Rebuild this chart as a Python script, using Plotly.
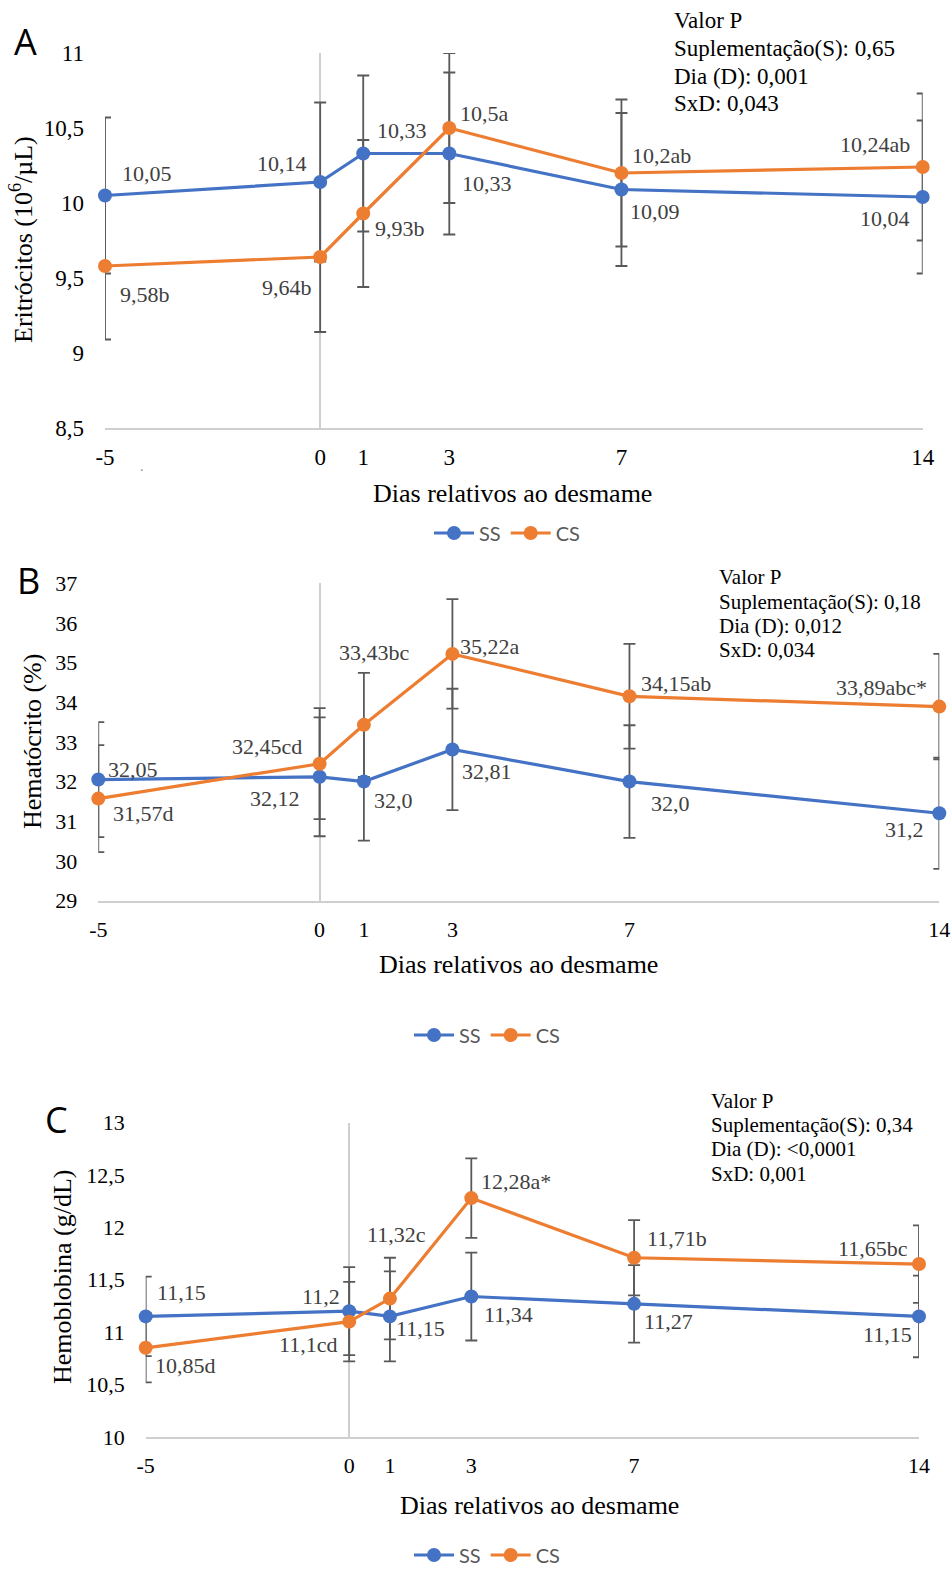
import plotly.graph_objects as go

W, H = 952, 1571

# ---------------- data ----------------
days = [-5, 0, 1, 3, 7, 14]
day_labels = ["-5", "0", "1", "3", "7", "14"]
series_names = ["SS", "CS"]

eri_ss = [10.05, 10.14, 10.33, 10.33, 10.09, 10.04]
eri_cs = [9.58, 9.64, 9.93, 10.50, 10.20, 10.24]
eri_ss_err = [0.52, 0.53, 0.52, 0.54, 0.51, 0.51]
eri_cs_err = [0.49, 0.50, 0.49, 0.50, 0.49, 0.49]
eri_ss_lbl = ["10,05", "10,14", "10,33", "10,33", "10,09", "10,04"]
eri_cs_lbl = ["9,58b", "9,64b", "9,93b", "10,5a", "10,2ab", "10,24ab"]

hem_ss = [32.05, 32.12, 32.0, 32.81, 32.0, 31.2]
hem_cs = [31.57, 32.45, 33.43, 35.22, 34.15, 33.89]
hem_ss_err = [1.45, 1.50, 1.49, 1.53, 1.42, 1.40]
hem_cs_err = [1.35, 1.40, 1.31, 1.38, 1.32, 1.33]
hem_ss_lbl = ["32,05", "32,12", "32,0", "32,81", "32,0", "31,2"]
hem_cs_lbl = ["31,57d", "32,45cd", "33,43bc", "35,22a", "34,15ab", "33,89abc*"]

hgb_ss = [11.15, 11.2, 11.15, 11.34, 11.27, 11.15]
hgb_cs = [10.85, 11.1, 11.32, 12.28, 11.71, 11.65]
hgb_ss_err = [0.38, 0.42, 0.43, 0.42, 0.37, 0.39]
hgb_cs_err = [0.33, 0.38, 0.39, 0.38, 0.36, 0.37]
hgb_ss_lbl = ["11,15", "11,2", "11,15", "11,34", "11,27", "11,15"]
hgb_cs_lbl = ["10,85d", "11,1cd", "11,32c", "12,28a*", "11,71b", "11,65bc"]

pval_A = ["Valor P", "Suplementação(S): 0,65", "Dia (D): 0,001", "SxD: 0,043"]
pval_B = ["Valor P", "Suplementação(S): 0,18", "Dia (D): 0,012", "SxD: 0,034"]
pval_C = ["Valor P", "Suplementação(S): 0,34", "Dia (D): <0,0001", "SxD: 0,001"]

# ---------------- styles / layout helpers ----------------
BLUE = "#4472C4"
ORANGE = "#ED7D31"
ERR = "#595959"
AXLINE = "#cfcfcf"
SERIF = "Liberation Serif"

def px_x(p):
    return p / W

def px_y(p):
    return 1 - p / H

panels = [
    dict(key="A", xd=(105, 922.7), yd=(53, 428), yr=[8.5, 11], dtick=0.5,
         ss=eri_ss, cs=eri_cs, sse=eri_ss_err, cse=eri_cs_err,
         ssl=eri_ss_lbl, csl=eri_cs_lbl,
         sso=[(42, -22), (-38, -19), (39, -23), (38, 30), (34, 22), (-38, 21)],
         cso=[(40, 28), (-33, 30), (37, 15), (35, -15), (40, -18), (-48, -23)],
         lblsize=22, tick=23,
         ytitle="Eritrócitos (10<sup>6</sup>/µL)", ytpos=(22, 240),
         xtpos=(512, 493), leg=(507, 533), letter=("A", 25.5, 41.5),
         pv=pval_A, pvx=671.7, pvy=[21, 48.5, 76, 103.5], pvsize=23),
    dict(key="B", xd=(98.3, 939.3), yd=(583.3, 900.5), yr=[29, 37], dtick=1,
         ss=hem_ss, cs=hem_cs, sse=hem_ss_err, cse=hem_cs_err,
         ssl=hem_ss_lbl, csl=hem_cs_lbl,
         sso=[(35, -10), (-45, 22), (30, 19), (35, 22), (41, 22), (-35, 16)],
         cso=[(45, 15), (-53, -17), (11, -72), (38, -7), (47, -13), (-58, -19)],
         lblsize=22, tick=22,
         ytitle="Hematócrito (%)", ytpos=(32, 742),
         xtpos=(518, 964), leg=(487, 1035), letter=("B", 28, 580.5),
         pv=pval_B, pvx=717.3, pvy=[577, 601.5, 626, 650], pvsize=21),
    dict(key="C", xd=(145.7, 919), yd=(1122.7, 1436.8), yr=[10, 13], dtick=0.5,
         ss=hgb_ss, cs=hgb_cs, sse=hgb_ss_err, cse=hgb_cs_err,
         ssl=hgb_ss_lbl, csl=hgb_cs_lbl,
         sso=[(36, -24), (-28, -15), (31, 12), (37, 18), (34, 18), (-32, 18)],
         cso=[(40, 18), (-41, 23), (7, -64), (45, -17), (43, -19), (-46, -16)],
         lblsize=22, tick=22,
         ytitle="Hemoblobina (g/dL)", ytpos=(62, 1277),
         xtpos=(539, 1505), leg=(487, 1555), letter=("C", 56.5, 1119.5),
         pv=pval_C, pvx=709.3, pvy=[1100.7, 1125, 1149.3, 1174], pvsize=21),
]

fig = go.Figure()
annotations = []
layout = dict(width=W, height=H, margin=dict(l=0, r=0, t=0, b=0, autoexpand=False),
              paper_bgcolor="white", plot_bgcolor="white",
              separators=",.", hovermode=False)

for i, p in enumerate(panels):
    n = "" if i == 0 else str(i + 1)
    xa, ya = "x" + n, "y" + n
    legname = "legend" + n

    # error bars (drawn beneath lines/markers)
    for vals, errs in ((p["ss"], p["sse"]), (p["cs"], p["cse"])):
        fig.add_trace(go.Scatter(
            x=days, y=vals, mode="markers", xaxis=xa, yaxis=ya,
            marker=dict(size=1, color="rgba(0,0,0,0)"),
            error_y=dict(type="data", array=errs, visible=True, color=ERR,
                         thickness=1.8, width=6),
            showlegend=False, hoverinfo="skip", legend=legname))

    # lines + markers
    for name, vals, col in (("SS", p["ss"], BLUE), ("CS", p["cs"], ORANGE)):
        fig.add_trace(go.Scatter(
            x=days, y=vals, mode="lines+markers", name=name,
            xaxis=xa, yaxis=ya, cliponaxis=False,
            line=dict(color=col, width=3.2),
            marker=dict(color=col, size=14),
            legend=legname, showlegend=True))

    layout["xaxis" + n] = dict(
        domain=[px_x(p["xd"][0]), px_x(p["xd"][1])], range=[-5, 14],
        anchor=ya, tickmode="array", tickvals=days, ticktext=day_labels,
        automargin=False,
        showgrid=False, zeroline=True, zerolinecolor=AXLINE, zerolinewidth=1.6,
        showline=True, linecolor=AXLINE, linewidth=1.6, ticks="",
        ticklabelstandoff=8,
        tickfont=dict(family=SERIF, size=p["tick"], color="#000000"))
    layout["yaxis" + n] = dict(
        domain=[px_y(p["yd"][1]), px_y(p["yd"][0])], range=p["yr"],
        anchor=xa, dtick=p["dtick"], tick0=0, showgrid=False, zeroline=False,
        automargin=False,
        showline=False, ticks="", ticklabelstandoff=20,
        tickfont=dict(family=SERIF, size=p["tick"], color="#000000"))

    layout[legname] = dict(
        orientation="h", x=px_x(p["leg"][0]), xanchor="center",
        y=px_y(p["leg"][1]), yanchor="middle", bgcolor="rgba(0,0,0,0)",
        font=dict(family="Lato", size=20, color="#595959"),
        itemwidth=40, tracegroupgap=0)

    # data labels
    for vals, lbls, offs in ((p["ss"], p["ssl"], p["sso"]),
                             (p["cs"], p["csl"], p["cso"])):
        for d, v, t, (dx, dy) in zip(days, vals, lbls, offs):
            annotations.append(dict(
                x=d, y=v, xref=xa, yref=ya, text=t, showarrow=False,
                xshift=dx, yshift=-dy, xanchor="center", yanchor="middle",
                font=dict(family=SERIF, size=p["lblsize"], color="#404040")))

    # axis titles
    annotations.append(dict(
        x=px_x(p["xtpos"][0]), y=px_y(p["xtpos"][1]), xref="paper", yref="paper",
        text="Dias relativos ao desmame", showarrow=False,
        xanchor="center", yanchor="middle",
        font=dict(family=SERIF, size=26, color="#000000")))
    annotations.append(dict(
        x=px_x(p["ytpos"][0]), y=px_y(p["ytpos"][1]), xref="paper", yref="paper",
        text=p["ytitle"], showarrow=False, textangle=-90,
        xanchor="center", yanchor="middle",
        font=dict(family=SERIF, size=26, color="#000000")))

    # panel letter
    L, lx, ly = p["letter"]
    annotations.append(dict(
        x=px_x(lx), y=px_y(ly), xref="paper", yref="paper", text=L,
        showarrow=False, xanchor="center", yanchor="middle",
        font=dict(family="Open Sans", size=36, color="#000000")))

    # p-value block
    for line, yy in zip(p["pv"], p["pvy"]):
        annotations.append(dict(
            x=px_x(p["pvx"]), y=px_y(yy), xref="paper", yref="paper",
            text=line, showarrow=False, xanchor="left", yanchor="middle",
            font=dict(family=SERIF, size=p["pvsize"], color="#000000")))

# small stray dot seen next to the "-5" tick in panel A
annotations.append(dict(x=px_x(138), y=px_y(457), xref="paper", yref="paper",
                        text=".", showarrow=False,
                        font=dict(family=SERIF, size=14, color="#888888")))

layout["annotations"] = annotations
fig.update_layout(**layout)
fig.write_html("out.html")
